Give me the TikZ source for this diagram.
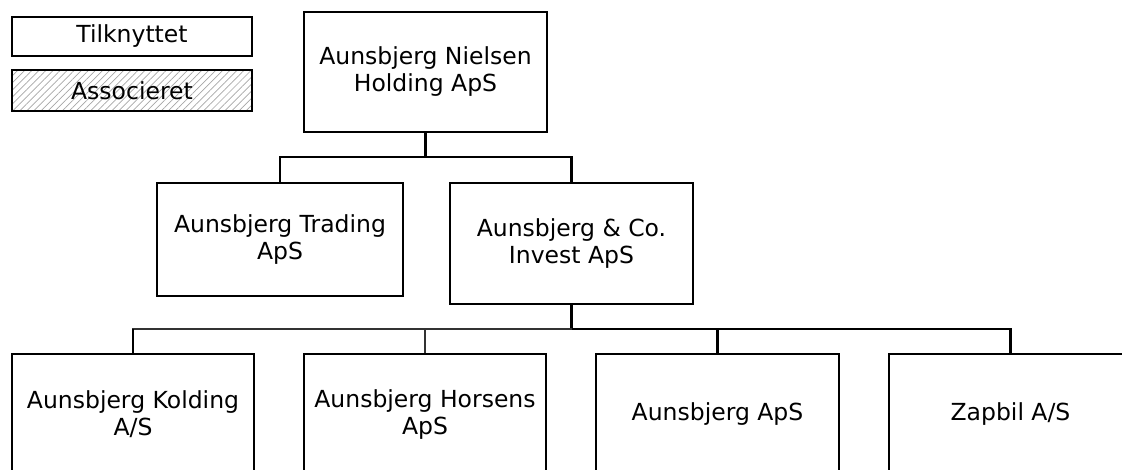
\documentclass[tikz,border=0pt]{standalone}
\usepackage{fontspec}
\setmainfont{DejaVu Sans}
\usetikzlibrary{patterns.meta}
\begin{document}
\begin{tikzpicture}[x=1pt,y=-1pt,
  box/.style={draw=black,line width=2.8pt,fill=white,align=center,inner sep=0pt,
    font=\fontsize{23.5}{27}\selectfont},
  link/.style={draw=black,line width=2.8pt},
  thinlink/.style={draw=black!80,line width=1.4pt}]
\useasboundingbox (0,0) rectangle (1122,470);
\begin{scope}
\clip (0,0) rectangle (1122,470);
% legend
\node[box,minimum width=240pt,minimum height=39pt] (leg1) at (132,36.5) {Tilknyttet};
\node[box,minimum width=240pt,minimum height=41pt,
  pattern={Lines[angle=45,distance=5pt,line width=0.7pt]},pattern color=black!35] (leg2) at (132,90.5) {};
\node[font=\fontsize{23.5}{27}\selectfont] (leg2t) at (leg2.center) {Associeret};
% tree
\node[box,minimum width=243pt,minimum height=120pt] (top) at (425.5,72) {Aunsbjerg Nielsen\\Holding ApS};
\node[box,minimum width=246pt,minimum height=113pt] (trading) at (280,239.5) {Aunsbjerg Trading\\ApS};
\node[box,minimum width=243pt,minimum height=121pt] (invest) at (571.5,243.5) {Aunsbjerg \& Co.\\Invest ApS};
\node[box,minimum width=242pt,minimum height=121pt] (kolding) at (133,414.5) {Aunsbjerg Kolding\\A/S};
\node[box,minimum width=242pt,minimum height=121pt] (horsens) at (425,414.5) {Aunsbjerg Horsens\\ApS};
\node[box,minimum width=243pt,minimum height=121pt] (aps) at (717.5,414.5) {Aunsbjerg ApS};
\node[box,minimum width=243pt,minimum height=121pt] (zapbil) at (1010.5,414.5) {Zapbil A/S};
\coordinate (j1) at (425.5,157);
\coordinate (j2) at (571.5,329);
\draw[link] (top.south) -- (j1);
\draw[link] (trading.north) |- (j1) -| (invest.north);
\draw[link] (invest.south) -- (j2);
\draw[thinlink] (kolding.north) |- (j2);
\draw[link] (j2) -| (zapbil.north);
\draw[link] (kolding.north) -- (kolding.north |- j2);
\draw[thinlink] (horsens.north) -- (horsens.north |- j2);
\draw[link] (aps.north) -- (aps.north |- j2);
\end{scope}
\end{tikzpicture}
\end{document}
